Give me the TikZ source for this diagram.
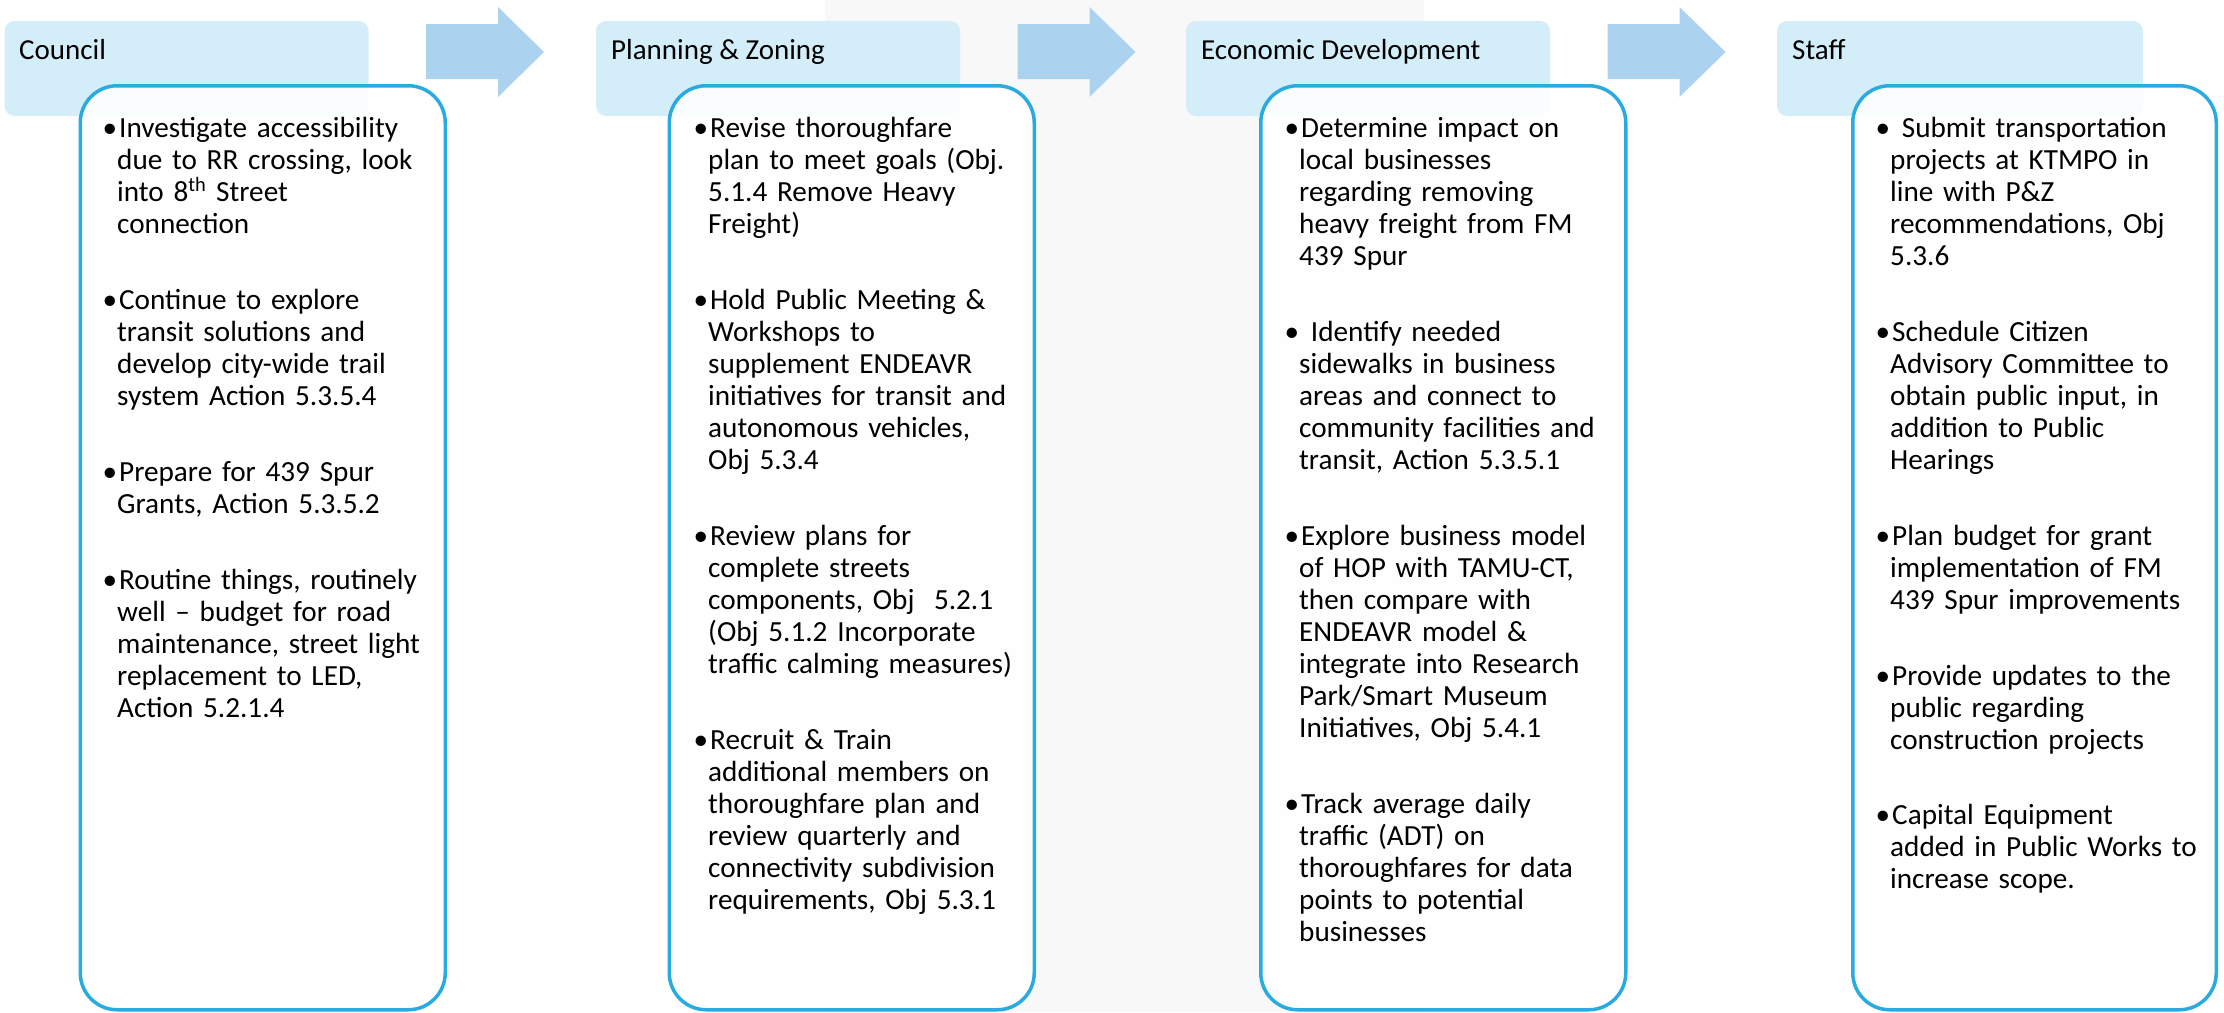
\documentclass[tikz,border=0pt]{standalone}
\usepackage{fontspec}
\setmainfont{Carlito}
\definecolor{hdrblue}{HTML}{D4EEF9}
\definecolor{arrowblue}{HTML}{ABD2EE}
\definecolor{boxline}{HTML}{29ABE2}
\definecolor{bggray}{HTML}{F8F8F9}
\tikzset{
  hdr/.style={fill=hdrblue, rounded corners=10pt, minimum width=364pt, minimum height=95pt, anchor=north west, inner sep=0pt, outer sep=0pt},
  hdrtext/.style={anchor=base west, inner sep=0pt, font=\fontsize{29}{32}\selectfont},
  tbox/.style={draw=boxline, line width=3.5pt, fill=white, fill opacity=0.9, rounded corners=37pt, minimum width=365pt, minimum height=924pt, anchor=north west, inner sep=0pt, outer sep=0pt},
  body/.style={anchor=base west, inner sep=0pt, text width=420pt, align=left, font=\fontsize{29.2}{32}\selectfont},
  barrow/.pic={\fill[arrowblue] (0,17) -- (72,17) -- (72,0) -- (118,45) -- (72,90) -- (72,72) -- (0,72) -- cycle;}
}
\newcommand{\bul}{\leavevmode\llap{\textbullet}\hspace*{2pt}}
\begin{document}
\begin{tikzpicture}[x=1pt,y=-1pt]
\useasboundingbox (0,0) rectangle (2224,1012);
\fill[bggray] (825,0) rectangle (1424,1012);
% headers
\node[hdr] (h1) at (4.6,21) {};
\node[hdr] (h2) at (596,21) {};
\node[hdr] (h3) at (1186,21) {};
\node[hdr, minimum width=366pt] (h4) at (1777,21) {};
\node[hdrtext] (t1) at (19,59) {Council};
\node[hdrtext] (t2) at (611,59) {Planning \& Zoning};
\node[hdrtext] (t3) at (1201,59) {Economic Development};
\node[hdrtext] (t4) at (1792,59) {Staff};
% arrows
\pic at (426,7) {barrow};
\pic at (1017.5,7) {barrow};
\pic at (1607.5,7) {barrow};
% text boxes
\node[tbox] (b1) at (80.25,85.75) {};
\node[tbox] (b2) at (669.25,85.75) {};
\node[tbox] (b3) at (1260.75,85.75) {};
\node[tbox, minimum width=363.5pt] (b4) at (1852.75,85.75) {};
% body texts
\node[body] (c1) at (117,137) {%
\bul Investigate accessibility\\
due to RR crossing, look\\
into 8\textsuperscript{th} Street\\
connection\\[44pt]
\bul Continue to explore\\
transit solutions and\\
develop city-wide trail\\
system Action 5.3.5.4\\[44pt]
\bul Prepare for 439 Spur\\
Grants, Action 5.3.5.2\\[44pt]
\bul Routine things, routinely\\
well -- budget for road\\
maintenance, street light\\
replacement to LED,\\
Action 5.2.1.4};
\node[body] (c2) at (708,137) {%
\bul Revise thoroughfare\\
plan to meet goals (Obj.\\
5.1.4 Remove Heavy\\
Freight)\\[44pt]
\bul Hold Public Meeting \&\\
Workshops to\\
supplement ENDEAVR\\
initiatives for transit and\\
autonomous vehicles,\\
Obj 5.3.4\\[44pt]
\bul Review plans for\\
complete streets\\
components, Obj\ \ 5.2.1\\
(Obj 5.1.2 Incorporate\\
traffic calming measures)\\[44pt]
\bul Recruit \& Train\\
additional members on\\
thoroughfare plan and\\
review quarterly and\\
connectivity subdivision\\
requirements, Obj 5.3.1};
\node[body] (c3) at (1299,137) {%
\bul Determine impact on\\
local businesses\\
regarding removing\\
heavy freight from FM\\
439 Spur\\[44pt]
\bul\ Identify needed\\
sidewalks in business\\
areas and connect to\\
community facilities and\\
transit, Action 5.3.5.1\\[44pt]
\bul Explore business model\\
of HOP with TAMU-CT,\\
then compare with\\
ENDEAVR model \&\\
integrate into Research\\
Park/Smart Museum\\
Initiatives, Obj 5.4.1\\[44pt]
\bul Track average daily\\
traffic (ADT) on\\
thoroughfares for data\\
points to potential\\
businesses};
\node[body] (c4) at (1890,137) {%
\bul\ Submit transportation\\
projects at KTMPO in\\
line with P\&Z\\
recommendations, Obj\\
5.3.6\\[44pt]
\bul Schedule Citizen\\
Advisory Committee to\\
obtain public input, in\\
addition to Public\\
Hearings\\[44pt]
\bul Plan budget for grant\\
implementation of FM\\
439 Spur improvements\\[44pt]
\bul Provide updates to the\\
public regarding\\
construction projects\\[43pt]
\bul Capital Equipment\\
added in Public Works to\\
increase scope.};
\end{tikzpicture}
\end{document}
